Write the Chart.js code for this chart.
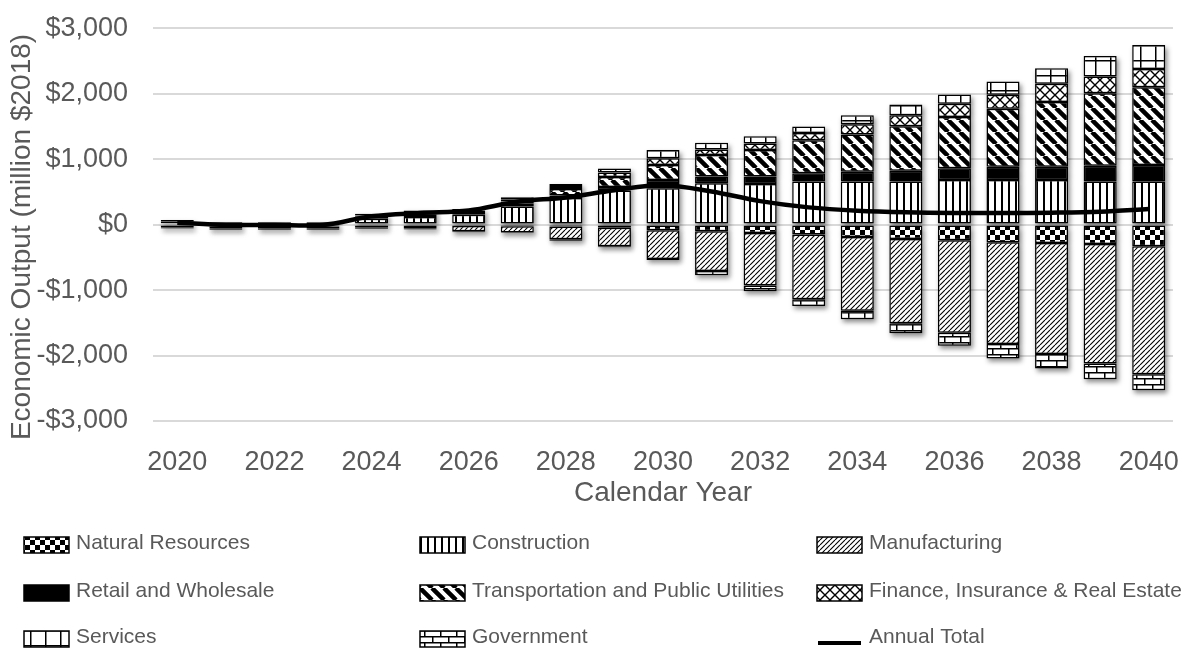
<!DOCTYPE html>
<html>
<head>
<meta charset="utf-8">
<script src="https://cdn.jsdelivr.net/npm/chart.js@4.4.1/dist/chart.umd.min.js"></script>
<style>
  body { margin: 0; background: #fff; }
  canvas { display: block; }
</style>
</head>
<body>
<canvas id="econChart" width="1197" height="651"></canvas>
<script>
var years = ['2020', '2021', '2022', '2023', '2024', '2025', '2026', '2027', '2028', '2029', '2030',
             '2031', '2032', '2033', '2034', '2035', '2036', '2037', '2038', '2039', '2040'];

// million $2018
var naturalResources = [-20, -30, -30, -30, -15, -20, -20, -25, -30, -50, -85, -100, -127, -153, -188, -220, -240, -271, -281, -296, -332];
var construction = [20, 10, 10, 10, 90, 117, 152, 278, 405, 521, 557, 633, 622, 657, 657, 657, 683, 683, 683, 657, 657];
var manufacturing = [-20, -25, -25, -25, -25, -35, -80, -95, -195, -280, -440, -607, -804, -987, -1129, -1288, -1411, -1553, -1697, -1825, -1952];
var retail = [30, 20, 20, 20, 30, 40, 40, 40, 40, 55, 126, 100, 111, 127, 152, 167, 177, 202, 202, 243, 253];
var transport = [0, 0, 0, 0, 10, 20, 20, 35, 100, 150, 227, 329, 405, 506, 567, 678, 784, 886, 986, 1108, 1189];
var finance = [0, 0, 0, 0, 10, 10, 6, 25, 30, 70, 102, 87, 102, 110, 157, 167, 202, 212, 279, 253, 279];
var services = [20, 10, 10, 10, 25, 30, 20, 40, 45, 60, 126, 100, 111, 100, 136, 167, 142, 202, 237, 314, 364];
var government = [-20, -25, -25, -25, -25, -20, -17, -10, -20, -15, -15, -66, -87, -102, -127, -153, -199, -220, -220, -240, -245];
var annualTotal = [30, -5, -5, -5, 126, 177, 215, 350, 415, 526, 602, 506, 359, 263, 212, 187, 177, 177, 182, 197, 238];

var yTitleText = 'Economic Output (million $2018)';
var xTitleText = 'Calendar Year';

var textGray = '#595959';
Chart.defaults.font.family = '"Liberation Sans", Arial, sans-serif';

// hatch fills, black on white
function makePattern(w, h, draw) {
    var c = document.createElement('canvas');
    c.width = w;
    c.height = h;
    var g = c.getContext('2d');
    g.fillStyle = '#fff';
    g.fillRect(0, 0, w, h);
    g.fillStyle = '#000';
    g.strokeStyle = '#000';
    draw(g, w, h);
    return g.createPattern(c, 'repeat');
}

var checker = makePattern(10, 10, function (g) {
    g.fillRect(0, 0, 5, 5);
    g.fillRect(5, 5, 5, 5);
});
var verticals = makePattern(7, 7, function (g) {
    g.fillRect(0, 0, 2, 7);
});
var thinDiag = makePattern(5, 5, function (g) {
    g.lineWidth = 1.1;
    g.beginPath();
    for (var k = -5; k <= 5; k += 5) {
        g.moveTo(k, 5);
        g.lineTo(k + 5, 0);
    }
    g.stroke();
});
var wideDiag = makePattern(12, 12, function (g) {
    g.lineWidth = 4.5;
    g.beginPath();
    for (var k = -12; k <= 12; k += 12) {
        g.moveTo(k, 0);
        g.lineTo(k + 12, 12);
    }
    g.stroke();
});
var crossHatch = makePattern(10, 10, function (g) {
    g.lineWidth = 1.4;
    g.beginPath();
    g.moveTo(0, 0); g.lineTo(10, 10);
    g.moveTo(0, 10); g.lineTo(10, 0);
    g.stroke();
});
var bigGrid = makePattern(15, 15, function (g) {
    g.fillRect(0, 0, 15, 1.5);
    g.fillRect(0, 0, 1.5, 15);
});
var bricks = makePattern(16, 12, function (g) {
    g.fillRect(0, 0, 16, 1.5);
    g.fillRect(0, 6, 16, 1.5);
    g.fillRect(0, 0, 1.5, 6);
    g.fillRect(8, 6, 1.5, 6);
});

function barSet(label, data, fill) {
    return {
        label: label,
        data: data,
        backgroundColor: fill,
        borderColor: '#000',
        borderWidth: 1.5,
        borderSkipped: false,
        barPercentage: 0.68,
        categoryPercentage: 1
    };
}

function money(v) {
    if (v === 0) return '$0';
    return (v < 0 ? '-' : '') + '$' + Math.abs(v).toLocaleString('en-US');
}

// soft drop shadow behind the bars (the original has one)
var barShadow = {
    id: 'barShadow',
    beforeDatasetsDraw: function (chart) {
        var c = chart.ctx;
        c.save();
        c.filter = 'blur(2.5px)';
        c.fillStyle = 'rgba(0, 0, 0, 0.45)';
        chart.getSortedVisibleDatasetMetas().forEach(function (meta) {
            if (meta.type !== 'bar') return;
            meta.data.forEach(function (bar) {
                var p = bar.getProps(['x', 'y', 'base', 'width'], true);
                var top = Math.min(p.y, p.base);
                var h = Math.abs(p.y - p.base);
                c.fillRect(p.x - p.width / 2 + 2, top + 3, p.width, h);
            });
        });
        c.restore();
    }
};

// rotated y title, sits a little below the axis middle like the original
var yTitlePlugin = {
    id: 'yTitle',
    afterDraw: function (chart) {
        var c = chart.ctx;
        c.save();
        c.translate(22, 237);
        c.rotate(-Math.PI / 2);
        c.font = '28px "Liberation Sans", Arial, sans-serif';
        c.fillStyle = textGray;
        c.textAlign = 'center';
        c.textBaseline = 'middle';
        c.fillText(yTitleText, 0, 0);
        c.restore();
    }
};

// 3 x 3 legend under the axis
var gridLegend = {
    id: 'gridLegend',
    afterDraw: function (chart) {
        var c = chart.ctx;
        var cols = [24, 420, 817];
        var rows = [537, 585, 631];
        c.save();
        c.font = '21px "Liberation Sans", Arial, sans-serif';
        c.textBaseline = 'alphabetic';
        c.textAlign = 'left';
        chart.data.datasets.forEach(function (ds, i) {
            var x = cols[i % 3];
            var y = rows[Math.floor(i / 3)];
            if (ds.type === 'line') {
                c.fillStyle = '#000';
                c.fillRect(x + 1, y + 10, 43, 4);
            } else {
                c.fillStyle = ds.backgroundColor;
                c.fillRect(x, y, 45, 16);
                c.strokeStyle = '#000';
                c.lineWidth = 1.5;
                c.strokeRect(x, y, 45, 16);
            }
            c.fillStyle = textGray;
            c.fillText(ds.label, x + 52, y + 12);
        });
        c.restore();
    }
};

var ctx = document.getElementById('econChart').getContext('2d');
var econChart = new Chart(ctx, {
    type: 'bar',
    data: {
        labels: years,
        datasets: [
            barSet('Natural Resources', naturalResources, checker),
            barSet('Construction', construction, verticals),
            barSet('Manufacturing', manufacturing, thinDiag),
            barSet('Retail and Wholesale', retail, '#000'),
            barSet('Transportation and Public Utilities', transport, wideDiag),
            barSet('Finance, Insurance & Real Estate', finance, crossHatch),
            barSet('Services', services, bigGrid),
            barSet('Government', government, bricks),
            {
                type: 'line',
                label: 'Annual Total',
                data: annualTotal,
                borderColor: '#000',
                borderWidth: 4.5,
                pointRadius: 0,
                tension: 0.35,
                fill: false,
                stack: 'total',
                order: -1
            }
        ]
    },
    options: {
        responsive: false,
        animation: false,
        layout: {
            padding: { top: 0, right: 24, bottom: 141, left: 0 }
        },
        plugins: {
            legend: { display: false },
            tooltip: { enabled: false }
        },
        scales: {
            x: {
                stacked: true,
                grid: { display: false },
                border: { display: false },
                ticks: {
                    autoSkip: false,
                    maxRotation: 0,
                    padding: 17,
                    color: textGray,
                    font: { size: 27 },
                    callback: function (v, i) {
                        return i % 2 === 0 ? years[i] : '';
                    }
                },
                title: {
                    display: true,
                    text: xTitleText,
                    color: textGray,
                    font: { size: 28 },
                    padding: 0
                },
                afterFit: function (axis) {
                    axis.height = 89;
                }
            },
            y: {
                stacked: true,
                min: -3000,
                max: 3000,
                grid: {
                    color: '#d9d9d9',
                    lineWidth: 2,
                    drawTicks: true,
                    tickLength: 13,
                    tickColor: 'rgba(0, 0, 0, 0)'
                },
                border: { display: false },
                ticks: {
                    stepSize: 1000,
                    padding: 12,
                    color: textGray,
                    font: { size: 27 },
                    callback: function (v) {
                        return money(v);
                    }
                },
                afterFit: function (axis) {
                    axis.width = 153;
                }
            }
        }
    },
    plugins: [barShadow, yTitlePlugin, gridLegend]
});
</script>
</body>
</html>
